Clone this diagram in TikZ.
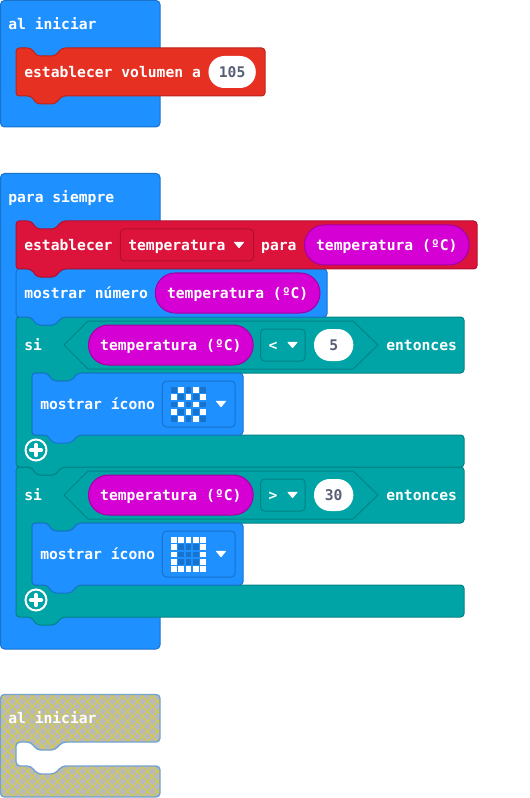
\documentclass[tikz,border=0pt]{standalone}
\usepackage{fontspec}
\newfontfamily\blockfont{DejaVu Sans Mono Bold}
\definecolor{LoopBlue}{HTML}{1E90FF}
\definecolor{LoopEdge}{HTML}{1873CC}
\definecolor{MusicRed}{HTML}{E63022}
\definecolor{MusicEdge}{HTML}{B8261B}
\definecolor{VarRed}{HTML}{DC143C}
\definecolor{VarEdge}{HTML}{B01030}
\definecolor{LogicTeal}{HTML}{00A4A6}
\definecolor{LogicEdge}{HTML}{008385}
\definecolor{InputPink}{HTML}{D400D4}
\definecolor{InputEdge}{HTML}{A300A3}
\definecolor{NumberInk}{HTML}{575E75}
\definecolor{GhostGray}{HTML}{B9B9B9}
\definecolor{GhostLine}{HTML}{D8D030}
\definecolor{GhostEdge}{HTML}{74A3D0}
\usepackage{tikz}
\usetikzlibrary{positioning}
% notch of a block: left to right on a top edge, right to left on a bottom edge
\newcommand{\notchtop}[2]{-- (#1+15,#2) -- (#1+21,#2+8) -- (#1+39,#2+8) -- (#1+46,#2)}
\newcommand{\notchbot}[2]{-- (#1+46,#2) -- (#1+39,#2+8) -- (#1+21,#2+8) -- (#1+15,#2)}
\newcommand{\stackblock}[5]{\draw[#1] (#2,#3) \notchtop{#2}{#3} -- (#4,#3) -- (#4,#5) \notchbot{#2}{#5} -- (#2,#5) -- cycle;}
\newcommand{\ifblock}[1]{\draw[logic] (16,#1) \notchtop{16}{#1} -- (464,#1) -- (464,#1+56) \notchbot{32}{#1+56} -- (32,#1+56) -- (32,#1+118) -- (464,#1+118) -- (464,#1+150) \notchbot{16}{#1+150} -- (16,#1+150) -- cycle;}
\newcommand{\ghostpath}{(0.5,694.5) -- (160,694.5) -- (160,742) \notchbot{16}{742} -- (16,742) -- (16,766) \notchtop{16}{766} -- (160,766) -- (160,797) -- (0.5,797) -- cycle}
\begin{document}
\begin{tikzpicture}[
  x=0.75pt,y=-0.75pt,
  node distance=6pt,
  lbl/.style={font=\blockfont\fontsize{11}{13}\selectfont,text=white,inner sep=0pt,text height=10pt,text depth=2pt},
  pill/.style={lbl,draw=InputEdge,line width=.75pt,fill=InputPink,rounded corners=14.9pt,minimum width=123.5pt,minimum height=30pt},
  numpill/.style={lbl,text=NumberInk,fill=white,rounded corners=11.9pt,minimum height=24pt},
  dropmenu/.style={lbl,line width=.75pt,inner xsep=6pt,rounded corners=3pt,minimum height=24pt},
  hat/.style={draw=LoopEdge,line width=.75pt,fill=LoopBlue,rounded corners=3pt},
  loopblk/.style={draw=LoopEdge,line width=.75pt,fill=LoopBlue,rounded corners=2.5pt},
  music/.style={draw=MusicEdge,line width=.75pt,fill=MusicRed,rounded corners=2.5pt},
  setvar/.style={draw=VarEdge,line width=.75pt,fill=VarRed,rounded corners=2.5pt},
  logic/.style={draw=LogicEdge,line width=.75pt,fill=LogicTeal,rounded corners=2.5pt},
  hexa/.style={draw=LogicEdge,line width=.75pt,fill=LogicTeal},
  ghost/.style={draw=GhostEdge,line width=1.1pt,rounded corners=3pt},
  caret/.pic={\fill[white,rounded corners=.6pt] (-5.5,-3.2) -- (5.5,-3.2) -- (0,3.4) -- cycle;},
  plusbtn/.pic={
    \draw[white,line width=1.5pt] (0,0) circle[radius=10.5];
    \draw[white,line width=2.4pt,line cap=round] (-5.5,0) -- (5.5,0) (0,-5.5) -- (0,5.5);},
  ledchecker/.pic={
    \foreach \row in {0,...,4} \foreach \col in {0,...,4} {
      \pgfmathparse{int(mod(\row+\col,2))}
      \ifnum\pgfmathresult=1 \fill[white] (\col*7.3,\row*7.3) rectangle ++(5.6,5.6);
      \else \fill[LoopEdge] (\col*7.3,\row*7.3) rectangle ++(5.6,5.6); \fi}},
  ledframe/.pic={
    \foreach \row in {0,...,4} \foreach \col in {0,...,4} {
      \pgfmathparse{int(\row==0||\row==4||\col==0||\col==4)}
      \ifnum\pgfmathresult=1 \fill[white] (\col*7.3,\row*7.3) rectangle ++(5.6,5.6);
      \else \fill[LoopEdge] (\col*7.3,\row*7.3) rectangle ++(5.6,5.6); \fi}}
]
\useasboundingbox (0,0) rectangle (529,798);
% first hat
\draw[hat] (0.5,0.5) rectangle (160,127);
\node[lbl,anchor=west] (startlbl) at (8,24) {al iniciar};
\stackblock{music}{16}{48}{265}{96}
\node[lbl,anchor=west] (vollbl) at (24,72) {establecer volumen a};
\node[numpill,right=of vollbl,xshift=-.7pt,minimum width=35.5pt] (volval) {105};
% second hat
\draw[hat] (0.5,173.5) rectangle (160,649);
\node[lbl,anchor=west] (foreverlbl) at (8,197) {para siempre};
% second if
\ifblock{467}
\draw[hexa] (64,495) -- (88,471) -- (353,471) -- (378,495) -- (353,519) -- (88,519) -- cycle;
\node[lbl,anchor=west] (siB) at (24,495) {si};
\node[pill,anchor=west] (condB) at (88,495) {temperatura (ºC)};
\node[dropmenu,draw=LogicEdge,right=of condB,xshift=-1.2pt,text width=21.5pt] (opB) {>};
\pic at (292.5,495) {caret};
\node[numpill,minimum width=29.5pt,right=of opB] (valB) {30};
\node[lbl,anchor=west] (thenB) at (386,495) {entonces};
\stackblock{loopblk}{32}{523}{243}{585}
\node[lbl,anchor=west] (iconlblB) at (40,554) {mostrar ícono};
\node[dropmenu,draw=LoopEdge,minimum width=54.5pt,minimum height=34.5pt,right=of iconlblB,xshift=-1pt] (iconB) {};
\pic at (171,537) {ledframe};
\pic at (221,554) {caret};
\pic (plusB) at (36,600) {plusbtn};
% first if
\ifblock{317}
\draw[hexa] (64,345) -- (88,321) -- (353,321) -- (378,345) -- (353,369) -- (88,369) -- cycle;
\node[lbl,anchor=west] (siA) at (24,345) {si};
\node[pill,anchor=west] (condA) at (88,345) {temperatura (ºC)};
\node[dropmenu,draw=LogicEdge,right=of condA,xshift=-1.2pt,text width=21.5pt] (opA) {<};
\pic at (292.5,345) {caret};
\node[numpill,minimum width=29.5pt,right=of opA] (valA) {5};
\node[lbl,anchor=west] (thenA) at (386,345) {entonces};
\stackblock{loopblk}{32}{373}{243}{435}
\node[lbl,anchor=west] (iconlblA) at (40,404) {mostrar ícono};
\node[dropmenu,draw=LoopEdge,minimum width=54.5pt,minimum height=34.5pt,right=of iconlblA,xshift=-1pt] (iconA) {};
\pic at (171,387) {ledchecker};
\pic at (221,404) {caret};
\pic (plusA) at (36,450) {plusbtn};
% show number and set blocks
\stackblock{loopblk}{16}{269}{327}{317}
\node[lbl,anchor=west] (numlbl) at (24,293) {mostrar número};
\node[pill,right=of numlbl,xshift=-1pt] (numval) {temperatura (ºC)};
\stackblock{setvar}{16}{221}{477}{269}
\node[lbl,anchor=west] (setlbl) at (24,245) {establecer};
\node[dropmenu,draw=VarEdge,right=of setlbl,xshift=-.8pt,text width=88pt] (setvarname) {temperatura};
\pic at (239,245) {caret};
\node[lbl,right=of setvarname,xshift=-.9pt] (setto) {para};
\node[pill,right=of setto,xshift=-.6pt] (setval) {temperatura (ºC)};
% disabled hat
\fill[GhostGray,rounded corners=3pt] \ghostpath;
\begin{scope}
\clip[rounded corners=3pt] \ghostpath;
\foreach \k in {-110,-100,...,160} {
  \draw[GhostLine,line width=.6pt] (\k,694) -- (\k+110,804);
  \draw[GhostLine,line width=.6pt] (\k+5,804) -- (\k+115,694);}
\end{scope}
\draw[ghost] \ghostpath;
\node[lbl,anchor=west] (ghostlbl) at (8,718) {al iniciar};
\end{tikzpicture}
\end{document}
